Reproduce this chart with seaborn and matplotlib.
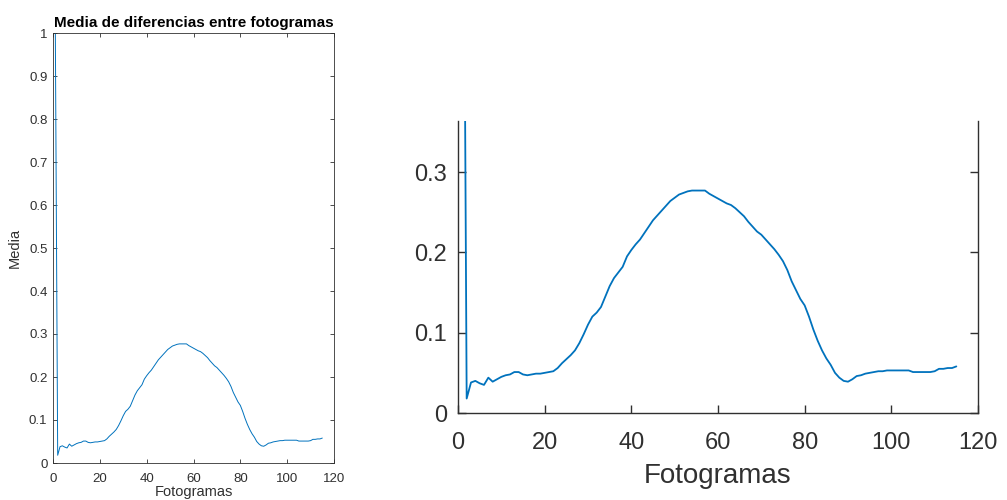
import numpy as np
import pandas as pd
import matplotlib
matplotlib.use("Agg")
import matplotlib.pyplot as plt
import seaborn as sns

frames = list(range(1, 116))
media = [
    1.000, 0.018, 0.038, 0.040, 0.037, 0.035, 0.044, 0.039, 0.042, 0.045,
    0.047, 0.048, 0.051, 0.051, 0.048, 0.047, 0.048, 0.049, 0.049, 0.050,
    0.051, 0.052, 0.056, 0.062, 0.067, 0.072, 0.078, 0.087, 0.098, 0.110,
    0.120, 0.125, 0.132, 0.145, 0.158, 0.168, 0.175, 0.182, 0.195, 0.203,
    0.210, 0.216, 0.224, 0.232, 0.240, 0.246, 0.252, 0.258, 0.264, 0.268,
    0.272, 0.274, 0.276, 0.277, 0.277, 0.277, 0.277, 0.273, 0.270, 0.267,
    0.264, 0.261, 0.259, 0.255, 0.250, 0.245, 0.238, 0.232, 0.226, 0.222,
    0.216, 0.210, 0.204, 0.197, 0.189, 0.178, 0.164, 0.153, 0.142, 0.134,
    0.120, 0.104, 0.090, 0.078, 0.068, 0.060, 0.050, 0.044, 0.040, 0.039,
    0.042, 0.046, 0.047, 0.049, 0.050, 0.051, 0.052, 0.052, 0.053, 0.053,
    0.053, 0.053, 0.053, 0.053, 0.051, 0.051, 0.051, 0.051, 0.051, 0.052,
    0.055, 0.055, 0.056, 0.056, 0.058,
]
xticks = [0, 20, 40, 60, 80, 100, 120]
yticks_left = [0, 0.1, 0.2, 0.3, 0.4, 0.5, 0.6, 0.7, 0.8, 0.9, 1]
ytick_labels_left = ["0", "0.1", "0.2", "0.3", "0.4", "0.5", "0.6", "0.7", "0.8", "0.9", "1"]
yticks_right = [0, 0.1, 0.2, 0.3]
ytick_labels_right = ["0", "0.1", "0.2", "0.3"]

title = "Media de diferencias entre fotogramas"
xlabel = "Fotogramas"
ylabel = "Media"

df = pd.DataFrame({"Fotogramas": frames, "Media": media})

sns.set_style("ticks")
plt.rcParams["font.family"] = ["Liberation Sans", "DejaVu Sans"]
gray = "#303030"
line_color = "#0072BD"

fig = plt.figure(figsize=(10.07, 5.0), dpi=100)

# Left panel (full view)
ax1 = fig.add_axes([53 / 1007, 37 / 500, 281 / 1007, 430 / 500])
sns.lineplot(data=df, x="Fotogramas", y="Media", ax=ax1, color=line_color, linewidth=0.7)
ax1.set_xlim(0, 120)
ax1.set_ylim(0, 1)
ax1.set_xticks(xticks)
ax1.set_yticks(yticks_left)
ax1.set_yticklabels(ytick_labels_left)
ax1.tick_params(axis="both", direction="in", length=3, width=0.6, colors=gray, labelsize=9.5,
                top=True, right=True, labeltop=False, labelright=False)
ax1.tick_params(axis="x", pad=7)
ax1.tick_params(axis="y", pad=4)
for s in ax1.spines.values():
    s.set_visible(True)
    s.set_color(gray)
    s.set_linewidth(0.6)
ax1.set_title(title, fontsize=11, fontweight="bold", color="black", pad=4)
ax1.set_xlabel(xlabel, fontsize=10.5, color=gray, labelpad=0)
ax1.set_ylabel(ylabel, fontsize=10.5, color=gray, labelpad=5)

# Right panel (zoomed)
ax2 = fig.add_axes([458 / 1007, 87 / 500, 520 / 1007, 292 / 500])
sns.lineplot(data=df, x="Fotogramas", y="Media", ax=ax2, color=line_color, linewidth=1.3)
ax2.set_xlim(0, 120)
ax2.set_ylim(0, 0.3636)
ax2.set_xticks(xticks)
ax2.set_yticks(yticks_right)
ax2.set_yticklabels(ytick_labels_right)
ax2.tick_params(axis="both", direction="in", length=6, width=1.0, colors=gray, labelsize=17,
                top=False, right=True, labelright=False)
ax2.tick_params(axis="x", pad=14)
ax2.tick_params(axis="y", pad=8)
ax2.spines["top"].set_visible(False)
for k in ["left", "right", "bottom"]:
    ax2.spines[k].set_visible(True)
    ax2.spines[k].set_color(gray)
    ax2.spines[k].set_linewidth(1.0)
ax2.set_xlabel(xlabel, fontsize=20, color=gray, labelpad=6)
ax2.set_ylabel("")

fig.savefig("out.png", dpi=100, facecolor="white")
